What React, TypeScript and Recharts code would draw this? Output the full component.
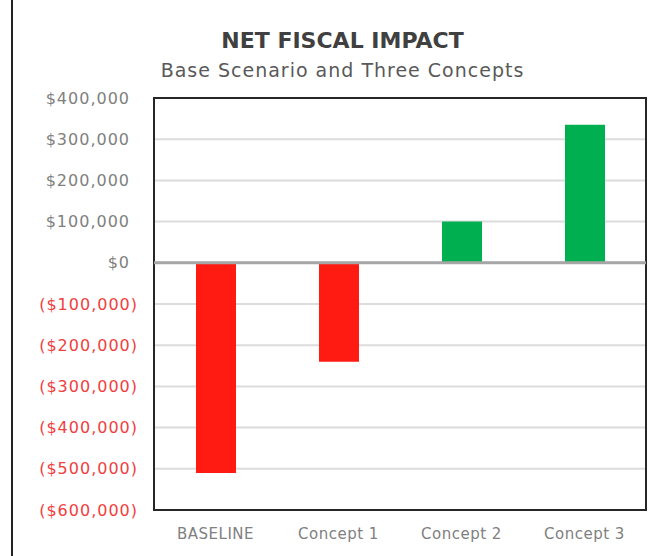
import { Bar, BarChart, CartesianGrid, Cell, ReferenceArea, ReferenceLine, XAxis, YAxis } from "recharts";

const CATEGORIES = ["BASELINE", "Concept 1", "Concept 2", "Concept 3"];
const NET_IMPACT = [-510000, -240000, 100000, 335000];
const Y_TICKS = [400000, 300000, 200000, 100000, 0, -100000, -200000, -300000, -400000, -500000, -600000];
const Y_DOMAIN = [-600000, 400000];

const FONT = "'DejaVu Sans', sans-serif";
const RED = "#ff1a12";
const GREEN = "#00b050";
const FRAME = "#262626";

const data = CATEGORIES.map((name, i) => ({ name, value: NET_IMPACT[i] }));

function money(v: number) {
  const s = "$" + Math.abs(v).toLocaleString("en-US");
  return v < 0 ? `(${s})` : s;
}

// negatives hang the closing paren past the column, like Excel's accounting format
function YTick(props: any) {
  const { x, y, payload } = props;
  const v = payload.value as number;
  return (
    <text
      x={v < 0 ? x + 8 : x}
      y={y}
      dy="0.35em"
      textAnchor="end"
      fontSize={16}
      letterSpacing={1}
      fontFamily={FONT}
      fill={v < 0 ? "#f04040" : "#808080"}
    >
      {money(v)}
    </text>
  );
}

export default function App() {
  return (
    <div style={{ position: "absolute", left: 0, top: 0, width: 666, height: 556, background: "#fff", fontFamily: FONT }}>
      <div style={{ position: "absolute", left: 11, top: 0, width: 2, height: 556, background: "#222" }} />
      <div style={{ position: "absolute", left: 0, width: 685, top: 30, lineHeight: 1, textAlign: "center", fontSize: 22, fontWeight: 700, color: "#404040" }}>
        NET FISCAL IMPACT
      </div>
      <div style={{ position: "absolute", left: 0, width: 685, top: 61, lineHeight: 1, textAlign: "center", fontSize: 19, letterSpacing: 1, color: "#595959" }}>
        Base Scenario and Three Concepts
      </div>
      <div style={{ position: "absolute", left: 0, top: 0 }}>
        <BarChart width={666} height={556} data={data} margin={{ top: 98, right: 20, bottom: 0, left: 0 }} barSize={40}>
          <CartesianGrid vertical={false} stroke="#dcdcdc" strokeWidth={2} />
          <XAxis
            dataKey="name"
            height={46}
            tickLine={false}
            tickMargin={12}
            axisLine={false}
            tick={{ fontSize: 15, fontFamily: FONT, fill: "#808080", letterSpacing: 0.5 }}
          />
          <YAxis
            width={154}
            domain={Y_DOMAIN}
            ticks={Y_TICKS}
            interval={0}
            tickLine={false}
            tickMargin={18}
            axisLine={false}
            tick={<YTick />}
          />
          <ReferenceLine y={0} stroke="#a6a6a6" strokeWidth={3} />
          <Bar dataKey="value" isAnimationActive={false}>
            {data.map((d, i) => (
              <Cell key={`cell-${i}`} fill={d.value < 0 ? RED : GREEN} />
            ))}
          </Bar>
          <ReferenceArea y1={Y_DOMAIN[0]} y2={Y_DOMAIN[1]} fill="none" fillOpacity={0} stroke={FRAME} strokeWidth={2} strokeOpacity={1} ifOverflow="visible" />
        </BarChart>
      </div>
    </div>
  );
}
